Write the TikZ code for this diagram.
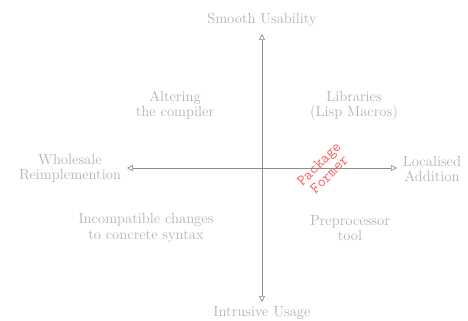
\documentclass[tikz,border=0pt]{standalone}
\usepackage{xcolor}
\usetikzlibrary{arrows.meta}
\definecolor{LabelGray}{rgb}{0.7, 0.7, 0.7}
\definecolor{AxisGray}{rgb}{0.55, 0.55, 0.55}
\definecolor{FormerRed}{rgb}{1, 0.35, 0.35}

\tikzset{
  quadlabel/.style={inner sep=0.75pt, align=center, color=LabelGray, font=\fontsize{11}{11.5}\selectfont},
  axisline/.style={color=AxisGray, line width=0.5pt, {Triangle[open,length=4.5pt,width=4.5pt]}-{Triangle[open,length=4.5pt,width=4.5pt]}},
}

\begin{document}
\begin{tikzpicture}[x=0.75pt,y=0.75pt,yscale=-1,xscale=1]
	\useasboundingbox (0,0) rectangle (468,321);

	% Axis ends
	\coordinate (usable) at (262,34);
	\coordinate (intrusive) at (262,302);
	\coordinate (wholesale) at (127,168);
	\coordinate (localised) at (397,168);

	%Straight Lines
	\draw [axisline] (usable) -- (intrusive) ;
	%Straight Lines
	\draw [axisline] (wholesale) -- (localised) ;

	% Text Node
	\node (smooth) at (262,20) [quadlabel] {Smooth Usability};
	% Text Node
	\node (intrusivetxt) at (262,313) [quadlabel] {Intrusive Usage};
	% Text Node
	\node (wholesaletxt) at (70,168) [quadlabel] {Wholesale\\Reimplemention};
	% Text Node
	\node (localisedtxt) at (432,169) [quadlabel] {Localised\\Addition};
	% Text Node
	\node (altering) at (175,105) [quadlabel] {Altering\\the compiler};
	% Text Node
	\node (libraries) at (354,106) [quadlabel] {Libraries\\(Lisp Macros)};
	% Text Node
	\node (incompat) at (146,228) [quadlabel] {Incompatible changes\\to concrete syntax};
	% Text Node
	\node (preproc) at (350,228) [quadlabel] {Preprocessor\\tool};
	% Text Node
	\node (former) at (324,169) [inner sep=0.75pt, align=center, color=FormerRed, rotate=45, font=\fontsize{11.5}{11}\selectfont\ttfamily] {Package\\Former};

\end{tikzpicture}
\end{document}
